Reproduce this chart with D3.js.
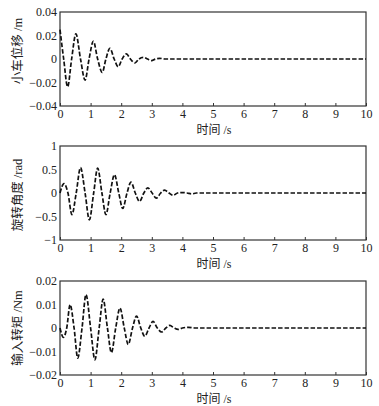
<!DOCTYPE html>
<html>
<head>
<meta charset="utf-8">
<script src="https://cdn.jsdelivr.net/npm/d3@7"></script>
<style>
  body { margin: 0; background: #fff; }
  text { font-family: "Liberation Serif", "Noto Sans CJK SC", serif; fill: #222; }
</style>
</head>
<body>
<div id="wrapper"></div>
<script>
// Time ticks shared by all three panels
const xTicks = [0, 1, 2, 3, 4, 5, 6, 7, 8, 9, 10]
const xLabel = "时间 /s"

// Panel 1: cart displacement (peaks / troughs)
const cartTime  = [0, 0.12, 0.25, 0.38, 0.52, 0.67, 0.82, 0.95, 1.09, 1.23, 1.38, 1.5, 1.63, 1.77, 1.9, 2.03, 2.17, 2.3, 2.45, 2.58, 2.72, 2.86, 2.99, 3.12, 3.26, 3.45, 3.7, 10]
const cartValue = [0.025, 0, -0.0237, 0, 0.0214, 0, -0.018, 0, 0.0151, 0, -0.0114, 0, 0.0091, 0, -0.0066, 0, 0.0043, 0, -0.0034, 0, 0.0014, 0, -0.0014, 0, 0.0006, 0, 0, 0]
const cartTicks = [-0.04, -0.02, 0, 0.02, 0.04]
const cartTickLabels = ["\u22120.04", "\u22120.02", "0", "0.02", "0.04"]

// Panel 2: rotation angle
const angleTime  = [0, 0.13, 0.26, 0.39, 0.53, 0.67, 0.82, 0.96, 1.1, 1.23, 1.37, 1.5, 1.64, 1.78, 1.92, 2.05, 2.19, 2.32, 2.46, 2.6, 2.74, 2.87, 3.01, 3.15, 3.29, 3.42, 3.56, 3.7, 3.84, 3.97, 4.15, 4.3, 4.45, 10]
const angleValue = [0, 0.2, 0, -0.46, 0, 0.54, 0, -0.57, 0, 0.53, 0, -0.46, 0, 0.39, 0, -0.33, 0, 0.23, 0, -0.18, 0, 0.11, 0, -0.11, 0, 0.06, 0, -0.05, 0, 0.01, 0, -0.02, 0, 0]
const angleTicks = [-1, -0.5, 0, 0.5, 1]
const angleTickLabels = ["\u22121", "\u22120.5", "0", "0.5", "1"]

// Panel 3: input torque
const torqueTime  = [0, 0.11, 0.22, 0.33, 0.46, 0.58, 0.72, 0.85, 1.0, 1.14, 1.28, 1.41, 1.55, 1.68, 1.82, 1.96, 2.1, 2.23, 2.37, 2.5, 2.64, 2.77, 2.91, 3.04, 3.18, 3.32, 3.46, 3.59, 3.73, 3.86, 4.0, 4.2, 4.4, 10]
const torqueValue = [0, -0.004, 0, 0.0099, 0, -0.0128, 0, 0.0142, 0, -0.0135, 0, 0.0123, 0, -0.0105, 0, 0.0085, 0, -0.007, 0, 0.0051, 0, -0.0035, 0, 0.0028, 0, -0.0017, 0, 0.0011, 0, -0.0006, 0, 0.0003, 0, 0]
const torqueTicks = [-0.02, -0.01, 0, 0.01, 0.02]
const torqueTickLabels = ["\u22120.02", "\u22120.01", "0", "0.01", "0.02"]

const panels = [
    { time: cartTime, value: cartValue, ticks: cartTicks, labels: cartTickLabels, domain: [-0.04, 0.04], title: "小车位移 /m", top: 12, bottom: 106, titleY: 51 },
    { time: angleTime, value: angleValue, ticks: angleTicks, labels: angleTickLabels, domain: [-1, 1], title: "旋转角度 /rad", top: 146, bottom: 240, titleY: 195 },
    { time: torqueTime, value: torqueValue, ticks: torqueTicks, labels: torqueTickLabels, domain: [-0.02, 0.02], title: "输入转矩 /Nm", top: 281, bottom: 375, titleY: 328 },
]

const dimensions = { width: 379, height: 406, left: 60, right: 366 }

const svg = d3.select("#wrapper")
    .append("svg")
        .attr("width", dimensions.width)
        .attr("height", dimensions.height)

const xScale = d3.scaleLinear()
    .domain([0, 10])
    .range([dimensions.left, dimensions.right])

panels.forEach(p => {
    const yScale = d3.scaleLinear()
        .domain(p.domain)
        .range([p.bottom, p.top])

    const g = svg.append("g")

    // frame
    g.append("rect")
        .attr("x", dimensions.left)
        .attr("y", p.top)
        .attr("width", dimensions.right - dimensions.left)
        .attr("height", p.bottom - p.top)
        .attr("fill", "none")
        .attr("stroke", "#333")
        .attr("stroke-width", 1.2)

    // x axis, ticks pointing inward
    const xAxis = g.append("g")
        .attr("transform", `translate(0, ${p.bottom})`)
        .call(d3.axisBottom(xScale).tickValues(xTicks).tickSizeInner(-3).tickSizeOuter(0).tickPadding(3).tickFormat(d3.format("d")))
    xAxis.select(".domain").remove()
    xAxis.selectAll(".tick line").attr("stroke", "#333")
    xAxis.selectAll("text").attr("font-size", 12).attr("fill", "#222")
        .attr("font-family", "Liberation Serif")

    // y axis labels only
    const yAxis = g.append("g")
        .attr("transform", `translate(${dimensions.left}, 0)`)
        .call(d3.axisLeft(yScale).tickValues(p.ticks).tickSize(0).tickPadding(3)
            .tickFormat((d, i) => p.labels[i]))
    yAxis.select(".domain").remove()
    yAxis.selectAll("text").attr("font-size", 12).attr("fill", "#222")
        .attr("font-family", "Liberation Serif")

    // axis titles
    g.append("text")
        .attr("x", 214)
        .attr("y", p.bottom + 28)
        .attr("text-anchor", "middle")
        .attr("font-size", 12)
        .text(xLabel)

    g.append("text")
        .attr("transform", `translate(22, ${p.titleY}) rotate(-90)`)
        .attr("text-anchor", "middle")
        .attr("font-size", 12.5)
        .text(p.title)

    // data
    const lineGenerator = d3.line()
        .x((d, i) => xScale(p.time[i]))
        .y((d, i) => yScale(p.value[i]))
        .curve(d3.curveMonotoneX)

    g.append("path")
        .attr("d", lineGenerator(p.time))
        .attr("fill", "none")
        .attr("stroke", "#111")
        .attr("stroke-width", 1.7)
        .attr("stroke-dasharray", "4.5,2")
})
</script>
</body>
</html>
